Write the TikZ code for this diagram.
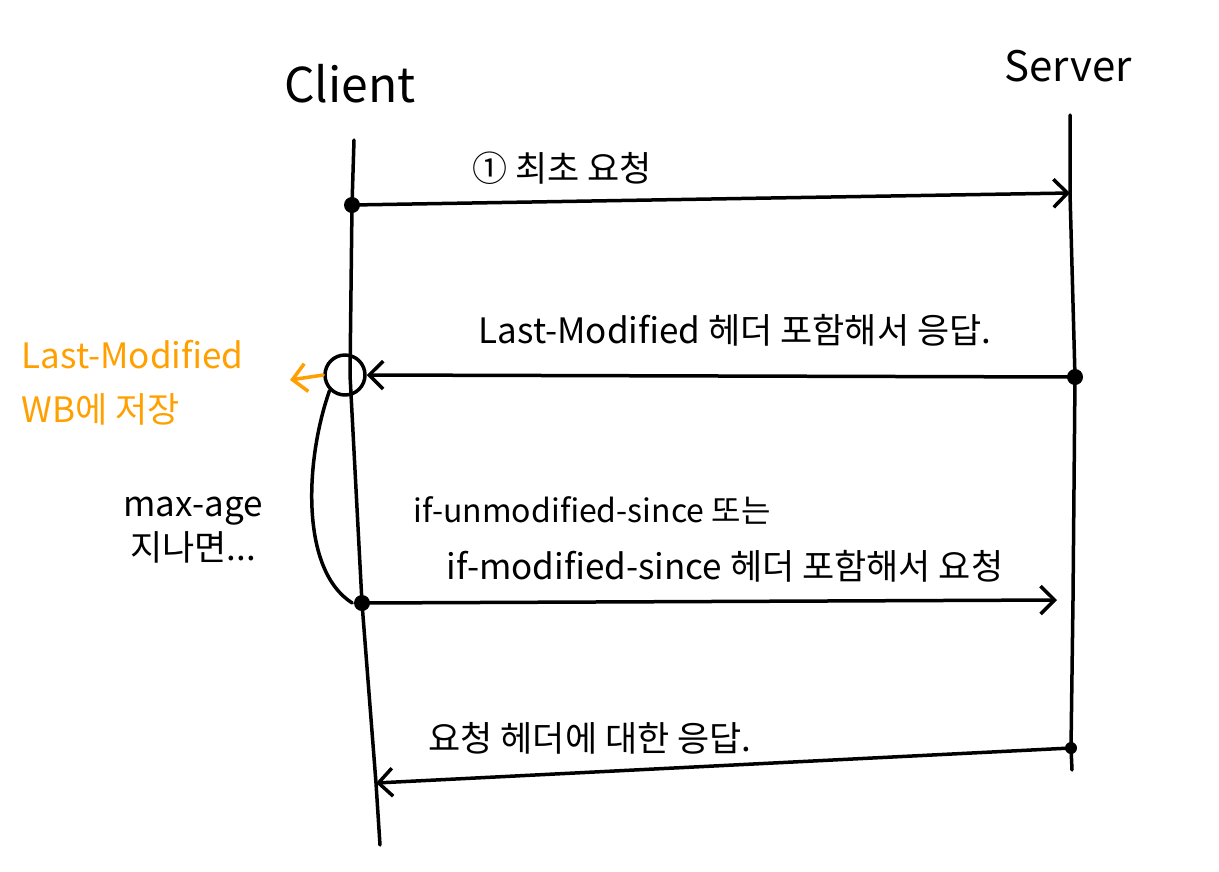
\documentclass[tikz,border=0pt]{standalone}
\usepackage{fontspec}
\setmainfont{Noto Sans CJK KR}
\usetikzlibrary{arrows.meta}
\definecolor{memoorange}{RGB}{255,160,0}

\begin{document}
\begin{tikzpicture}[x=1pt,y=-1pt,line width=3.5pt,line cap=round,line join=round,
    dotmark/.style={circle,fill=black,inner sep=0pt,minimum size=16pt},
    msg/.style={-{Straight Barb[length=14pt,width=28pt]}},
    txt/.style={inner sep=0pt,font=\fontsize{35}{44}\selectfont}]
  \useasboundingbox (0,0) rectangle (1219,871);

  % lifelines
  \node[inner sep=0pt,font=\fontsize{48}{54}\selectfont] (client) at (350,84) {Client};
  \node[inner sep=0pt,font=\fontsize{42}{48}\selectfont] (server) at (1068,66) {Server};
  \coordinate (ctop) at (354,140);
  \coordinate (c1) at (352,205);
  \coordinate (c2) at (350,375);
  \coordinate (c3) at (362,603);
  \coordinate (c4) at (376,783);
  \coordinate (cbot) at (380,845);
  \coordinate (stop) at (1070,115);
  \coordinate (s1) at (1070,193);
  \coordinate (s2) at (1075,377);
  \coordinate (s3) at (1073,600);
  \coordinate (s4) at (1071,748);
  \coordinate (sbot) at (1072,770);
  \draw (ctop) -- (c1) -- (c2) -- (c3) -- (c4) -- (cbot);
  \draw (stop) -- (s1) -- (s2) -- (s3) -- (s4) -- (sbot);

  % 1. first request
  \node[dotmark] (d1) at (c1) {};
  \draw[msg] (d1.center) -- (s1);
  \node[txt] (req1) at (562,168) {① 최초 요청};

  % 2. response with Last-Modified
  \node[dotmark] (d2) at (s2) {};
  \node[draw,circle,minimum size=40pt,inner sep=0pt] (mark) at (345,375) {};
  \draw[msg] (d2.center) -- (mark.east);
  \node[txt] (resp1) at (735,330) {Last-Modified 헤더 포함해서 응답.};

  % saved in browser
  \coordinate (save) at (290,380);
  \draw[memoorange,msg] (mark.west) -- (save);
  \node[txt,text=memoorange,align=left,anchor=west,
        font=\fontsize{35}{54}\selectfont] (note) at (20,383)
    {Last-Modified\\WB에 저장};

  % max-age
  \node[dotmark] (d3) at (c3) {};
  \draw (mark.south west) .. controls (305,460) and (300,570) .. (d3.west);
  \node[txt,align=center] (maxage) at (193,530) {max-age\\지나면...};

  % 3. conditional request
  \coordinate (r3) at (1057,600);
  \draw[msg] (d3.center) -- (r3);
  \node[txt,font=\fontsize{32}{40}\selectfont] (req2a) at (592,510) {if-unmodified-since 또는};
  \node[txt] (req2b) at (725,566) {if-modified-since 헤더 포함해서 요청};

  % 4. response
  \node[dotmark,minimum size=12pt] (d4) at (s4) {};
  \draw[msg] (d4.center) -- (c4);
  \node[txt] (resp2) at (590,738) {요청 헤더에 대한 응답.};
\end{tikzpicture}
\end{document}
